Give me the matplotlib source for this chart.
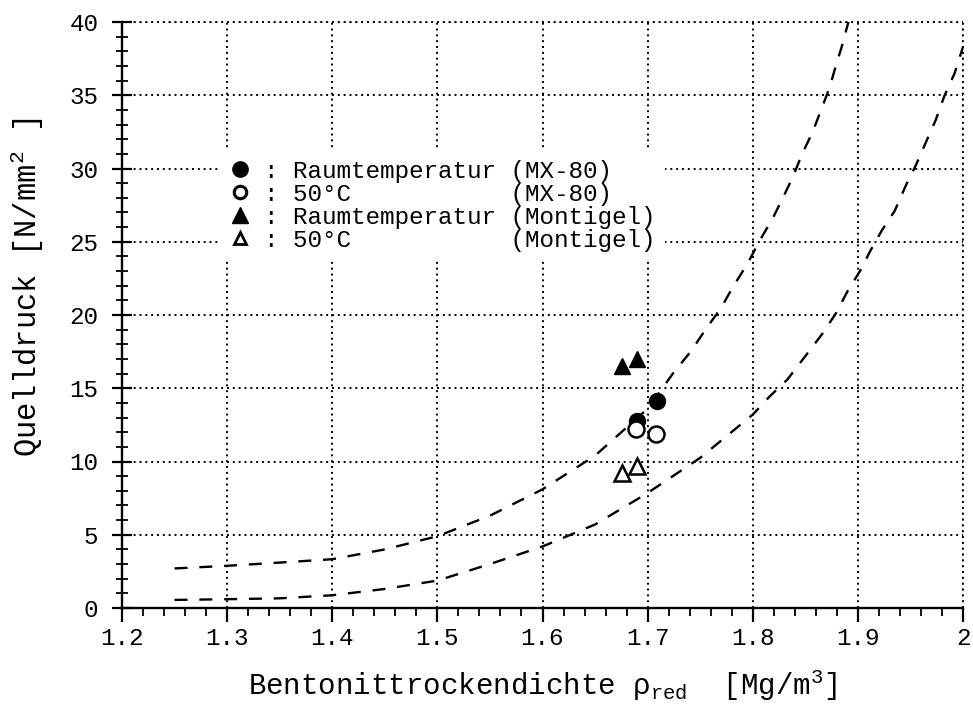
import matplotlib
matplotlib.use("Agg")
import matplotlib.pyplot as plt
from matplotlib.ticker import MultipleLocator
from matplotlib.lines import Line2D

plt.rcParams['font.family'] = ['Liberation Mono', 'DejaVu Sans Mono']
plt.rcParams['mathtext.fontset'] = 'custom'
plt.rcParams['mathtext.rm'] = 'Liberation Mono'
plt.rcParams['mathtext.it'] = 'Liberation Mono'
plt.rcParams['mathtext.bf'] = 'Liberation Mono'

# ---- data ----
upper_x = [1.25, 1.30, 1.35, 1.40, 1.45, 1.50, 1.55, 1.60, 1.65, 1.70, 1.725, 1.741,
           1.755, 1.770, 1.781, 1.795, 1.806, 1.819, 1.828, 1.838, 1.847, 1.857,
           1.865, 1.873, 1.879, 1.885, 1.891]
upper_y = [2.7, 2.88, 3.1, 3.33, 4.0, 4.9, 6.3, 8.1, 10.4, 13.6, 16.1, 17.5,
           19.0, 20.5, 21.9, 23.5, 25.0, 26.6, 27.9, 29.4, 31.0, 32.5,
           34.0, 35.5, 37.0, 38.4, 40.0]

lower_x = [1.25, 1.30, 1.35, 1.40, 1.45, 1.50, 1.55, 1.60, 1.65, 1.70, 1.75, 1.80,
           1.8155, 1.833, 1.849, 1.866, 1.879, 1.890, 1.902, 1.912, 1.923, 1.935,
           1.946, 1.955, 1.966, 1.974, 1.982, 1.992, 2.00]
lower_y = [0.55, 0.6, 0.66, 0.87, 1.3, 1.87, 3.0, 4.2, 5.7, 7.85, 10.25, 13.2,
           14.4, 15.6, 17.1, 18.7, 20.1, 21.6, 23.0, 24.4, 25.8, 27.1,
           28.9, 30.2, 32.0, 33.3, 34.9, 36.5, 38.3]

mx80_rt_x = [1.690, 1.709]
mx80_rt_y = [12.76, 14.13]
mx80_50_x = [1.689, 1.708]
mx80_50_y = [12.2, 11.85]
mont_rt_x = [1.676, 1.690]
mont_rt_y = [16.5, 17.0]
mont_50_x = [1.676, 1.690]
mont_50_y = [9.2, 9.7]

legend_labels = [": Raumtemperatur (MX-80)",
                 ": 50°C           (MX-80)",
                 ": Raumtemperatur (Montigel)",
                 ": 50°C           (Montigel)"]

xticks = [1.2, 1.3, 1.4, 1.5, 1.6, 1.7, 1.8, 1.9, 2.0]
xticklabels = ["1.2", "1.3", "1.4", "1.5", "1.6", "1.7", "1.8", "1.9", "2"]
yticks = [0, 5, 10, 15, 20, 25, 30, 35, 40]

W, H = 973, 712
fig = plt.figure(figsize=(W / 100, H / 100), dpi=100)
ax = fig.add_axes([122 / W, 1 - 608 / H, (963 - 122) / W, (608 - 22) / H])

ax.set_xlim(1.2, 2.0)
ax.set_ylim(0, 40)

grid_style = dict(color='black', linestyle=(0, (1, 2.0)), linewidth=1.4)
ax.grid(True, which='major', **grid_style)
ax.set_axisbelow(True)
for s in ['top', 'right']:
    ax.spines[s].set_visible(False)
for s in ['left', 'bottom']:
    ax.spines[s].set_linewidth(1.7)
    ax.spines[s].set_color('black')

# top and right borders are dotted grid lines at the limits
ax.axhline(40, clip_on=False, zorder=0.5, **grid_style)
ax.axvline(2.0, clip_on=False, zorder=0.5, **grid_style)

ax.set_xticks(xticks)
ax.set_xticklabels(xticklabels)
ax.set_yticks(yticks)
ax.xaxis.set_minor_locator(MultipleLocator(0.02))
ax.yaxis.set_minor_locator(MultipleLocator(1))

ax.tick_params(axis='x', which='major', direction='out', length=10, width=1.6, labelsize=17.5, pad=4)
ax.tick_params(axis='x', which='minor', direction='out', length=6, width=1.3)
ax.tick_params(axis='y', which='major', direction='inout', length=14, width=1.6, labelsize=17.5, pad=10)
ax.tick_params(axis='y', which='minor', direction='inout', length=8, width=1.3)

dash = dict(color='black', linewidth=1.7, linestyle=(0, (5.5, 5)))
ax.plot(upper_x, upper_y, clip_on=False, **dash)
ax.plot(lower_x, lower_y, clip_on=False, **dash)

ms = 11.5
ax.plot(mx80_rt_x, mx80_rt_y, 'o', color='black', markersize=ms, zorder=5)
ax.plot(mx80_50_x, mx80_50_y, 'o', markerfacecolor='white', markeredgecolor='black',
        markeredgewidth=1.8, markersize=ms, zorder=5)
ax.plot(mont_rt_x, mont_rt_y, '^', color='black', markersize=ms, zorder=5)
ax.plot(mont_50_x, mont_50_y, '^', markerfacecolor='white', markeredgecolor='black',
        markeredgewidth=1.8, markersize=ms, zorder=5)

handles = [
    Line2D([], [], marker='o', linestyle='none', color='black', markersize=11),
    Line2D([], [], marker='o', linestyle='none', markerfacecolor='white',
           markeredgecolor='black', markeredgewidth=2.2, markersize=9),
    Line2D([], [], marker='^', linestyle='none', color='black', markersize=11),
    Line2D([], [], marker='^', linestyle='none', markerfacecolor='white',
           markeredgecolor='black', markeredgewidth=2.0, markersize=9),
]
leg = ax.legend(handles, legend_labels, loc='upper left',
                bbox_to_anchor=(218 / W, 1 - 150 / H), bbox_transform=fig.transFigure,
                prop={'family': 'Liberation Mono', 'size': 17.5},
                frameon=True, fancybox=False, framealpha=1.0, edgecolor='white',
                facecolor='white', borderpad=0.4, borderaxespad=0,
                handlelength=1.0, handletextpad=0.5, labelspacing=0.0)
leg.get_frame().set_linewidth(0)

ax.set_xlabel(r"Bentonittrockendichte ρ$_{\mathrm{red}}$  [Mg/m$^3$]", fontsize=21)
ax.xaxis.set_label_coords(0.5, (608 - 668) / (608 - 22))
ax.set_ylabel(r"Quelldruck [N/mm$^2$ ]", fontsize=22)
ax.yaxis.set_label_coords((46 - 122) / (963 - 122), (608 - 287) / (608 - 22))

fig.savefig("out.png", dpi=100)
